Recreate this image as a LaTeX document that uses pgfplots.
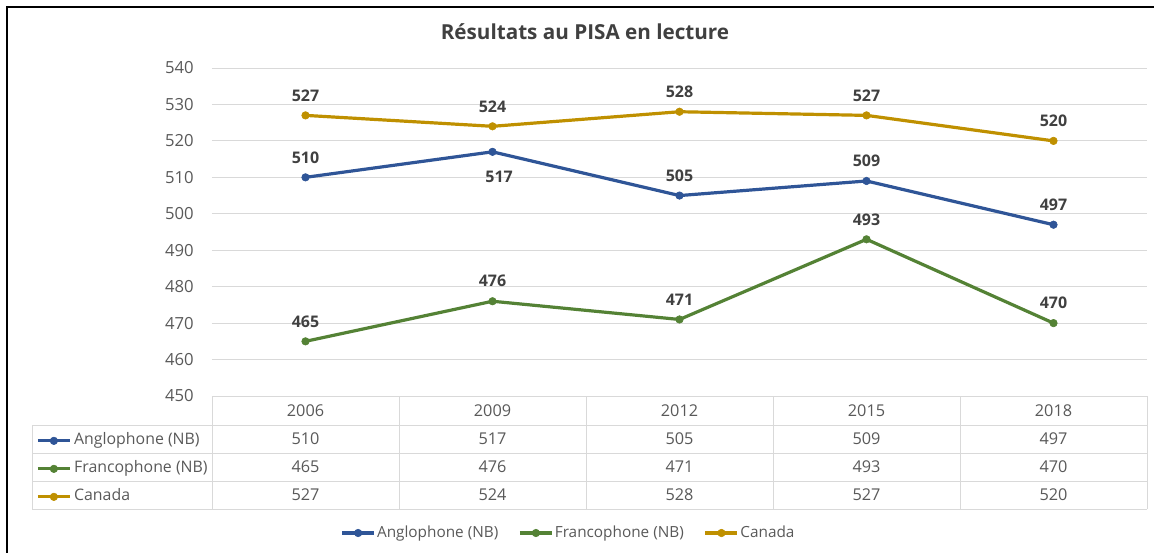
\documentclass[border=0pt]{standalone}
\usepackage{fontspec}
\setmainfont{Open Sans}
\usepackage{pgfplots}
\pgfplotsset{compat=1.18}
\usepackage{pgfplotstable}

\definecolor{cblue}{HTML}{2F5597}
\definecolor{cgreen}{HTML}{548235}
\definecolor{cgold}{HTML}{BF9000}
\definecolor{gridgray}{HTML}{D9D9D9}
\definecolor{tickgray}{HTML}{595959}
\definecolor{labelgray}{HTML}{404040}

\newcommand\smallf{\fontsize{11.5}{13}\selectfont}
\newcommand\tabf{\fontsize{12.2}{14}\selectfont}
\newcommand\keyf{\fontsize{11.9}{14}\selectfont}

% PISA reading scores
\pgfplotstableread{
year ang fra can
2006 510 465 527
2009 517 476 524
2012 505 471 528
2015 509 493 527
2018 497 470 520
}\pisa

\pgfplotsset{
  keyline/.style={legend image code/.code={%
    \draw[mark repeat=2, mark phase=2] plot coordinates {(0pt,0pt) (12pt,0pt) (24pt,0pt)};}},
}

\begin{document}
\begin{tikzpicture}
\begin{scope}[x=0.75pt, y=-0.75pt]
  \useasboundingbox (0,0) rectangle (1154,553);
  % frame
  \draw[black, line width=2pt] (7,553) -- (7,7) -- (1154,7);
  % title
  \node[font=\fontsize{15.5}{18}\selectfont\bfseries, text=labelgray] at (585,32) {Résultats au PISA en lecture};
  % data table grid
  \begin{scope}[gridgray, line width=0.75pt]
    \draw (212,396) -- (1147,396);
    \foreach \yy in {425,453,481,509} \draw (32,\yy) -- (1147,\yy);
    \foreach \xx in {212,399,586,773,960,1147} \draw (\xx,396) -- (\xx,509);
    \draw (32,425) -- (32,509);
  \end{scope}
  % data table text
  \begin{scope}[every node/.style={font=\tabf, text=tickgray, inner sep=0pt}]
    \foreach \i/\yr/\a/\f/\c in {0/2006/510/465/527, 1/2009/517/476/524, 2/2012/505/471/528, 3/2015/509/493/527, 4/2018/497/470/520} {
      \node at (305.5+187*\i,411) {\yr};
      \node at (305.5+187*\i,439) {\a};
      \node at (305.5+187*\i,467) {\f};
      \node at (305.5+187*\i,495) {\c};
    }
  \end{scope}
\end{scope}

\begin{axis}[
  at={(159pt,-297pt)}, anchor=south west,
  scale only axis, width=701.25pt, height=246pt,
  xmin=0, xmax=5, ymin=450, ymax=540,
  ytick={450,460,...,540}, xtick=\empty,
  axis line style={draw=none}, major tick length=0pt,
  ymajorgrids, grid style={gridgray, line width=0.75pt},
  /pgf/number format/assume math mode=true,
  yticklabel style={font=\fontsize{12.5}{14}\selectfont, text=tickgray, inner sep=0pt, anchor=east, xshift=-13.5pt},
  clip=false,
  every axis plot/.append style={line width=2.4pt, line join=round, mark=*, mark size=2.8pt,
    mark options={line width=0.5pt}},
  nodes near coords,
  nodes near coords style={font=\fontsize{12}{14}\selectfont\bfseries, text=labelgray, inner sep=0pt, anchor=center, yshift=15pt},
  keyline,
  legend cell align=left,
  legend style={at={(-0.1882,-0.1146)}, anchor=north west, draw=none, fill=none, inner sep=0pt,
    row sep=10.5pt, font=\keyf, text=tickgray,
    nodes={inner sep=0pt, text height=8pt, text depth=2.5pt},
    /tikz/every odd column/.append style={column sep=2pt}},
]
\addplot[cblue, coordinate style/.condition={\coordindex==1}{yshift=-33.75pt, xshift=5pt}]
  table[x expr=\coordindex+0.5, y=ang] {\pisa};
\addlegendentry{Anglophone (NB)}
\addplot[cgreen] table[x expr=\coordindex+0.5, y=fra] {\pisa};
\addlegendentry{Francophone (NB)}
\addplot[cgold] table[x expr=\coordindex+0.5, y=can] {\pisa};
\addlegendentry{Canada}
\end{axis}

% bottom legend
\begin{axis}[
  at={(159pt,-297pt)}, anchor=south west,
  scale only axis, width=701.25pt, height=246pt,
  xmin=0, xmax=5, ymin=450, ymax=540, hide axis,
  keyline,
  legend columns=3,
  legend style={at={(0.3802,-0.4177)}, anchor=center, draw=none, fill=none, inner sep=0pt,
    font=\smallf, text=tickgray,
    nodes={inner sep=0pt},
    /tikz/every odd column/.append style={column sep=1pt},
    /tikz/every even column/.append style={column sep=15pt}},
]
\addlegendimage{cblue, line width=2.4pt, mark=*, mark size=2.8pt, mark options={line width=0.5pt}}
\addlegendentry{Anglophone (NB)}
\addlegendimage{cgreen, line width=2.4pt, mark=*, mark size=2.8pt, mark options={line width=0.5pt}}
\addlegendentry{Francophone (NB)}
\addlegendimage{cgold, line width=2.4pt, mark=*, mark size=2.8pt, mark options={line width=0.5pt}}
\addlegendentry{Canada}
\end{axis}
\end{tikzpicture}
\end{document}
